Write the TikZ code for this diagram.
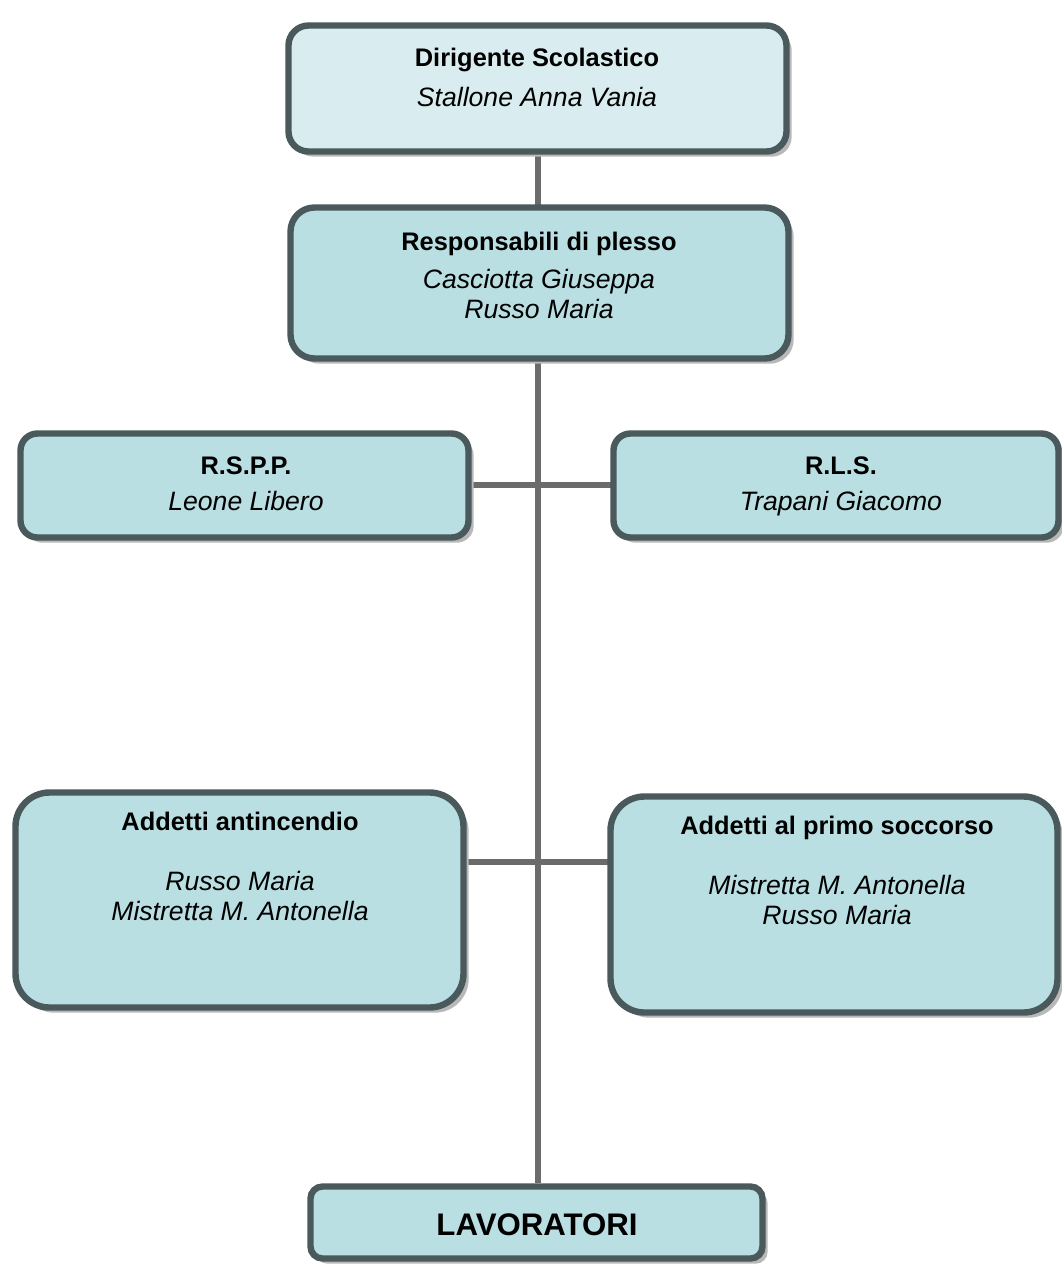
\documentclass[tikz,border=0pt]{standalone}
\usepackage{fontspec}
\setmainfont{Liberation Sans}
\usetikzlibrary{shadows}
\usetikzlibrary{backgrounds}
\usetikzlibrary{calc}

\definecolor{bordo}{RGB}{74,89,91}
\definecolor{chiaro}{RGB}{217,237,240}
\definecolor{acqua}{RGB}{185,223,227}
\definecolor{linea}{RGB}{107,107,107}

\newcommand{\titolo}[1]{{\fontsize{12.7}{15}\selectfont\bfseries\strut #1}}
\newcommand{\nome}[1]{{\fontsize{13.3}{15}\selectfont\itshape #1\strut}}

\tikzset{
  box/.style={draw=bordo, line width=3.2pt, fill=acqua, inner sep=0pt,
    drop shadow={shadow xshift=2.6pt, shadow yshift=-2.6pt, fill=black!28, opacity=1}},
  txt/.style={align=center, inner sep=0pt, font=\fontsize{13}{15}\selectfont},
  conn/.style={draw=linea, line width=3pt},
}

\begin{document}
\begin{tikzpicture}[x=0.5pt, y=-0.5pt]
    \useasboundingbox (0,0) rectangle (1062,1266);
    % riquadri
    \node[box, fill=chiaro, minimum width=249pt, minimum height=63pt, rounded corners=10pt] at (537.5, 88.5) (ds) {};
    \node[box, minimum width=249pt, minimum height=75.5pt, rounded corners=12pt] at (539.5, 283) (rp) {};
    \node[box, minimum width=224pt, minimum height=52pt, rounded corners=8.5pt] at (244.5, 485.5) (rspp) {};
    \node[box, minimum width=222.5pt, minimum height=52pt, rounded corners=8.5pt] at (836, 485.5) (rls) {};
    \node[box, minimum width=224pt, minimum height=107.5pt, rounded corners=17pt] at (239.5, 900) (aa) {};
    \node[box, minimum width=223.5pt, minimum height=108pt, rounded corners=17pt] at (834, 904.5) (ps) {};
    \node[box, minimum width=226pt, minimum height=36pt, rounded corners=6pt] at (536.5, 1222.5) (lav) {};
    % testi
    \node[txt] at (537, 80) (dst) {\titolo{Dirigente Scolastico}\\[5pt]\nome{Stallone Anna Vania}};
    \node[txt] at (539, 278) (rpt) {\titolo{Responsabili di plesso}\\[4pt]\nome{Casciotta Giuseppa}\\\nome{Russo Maria}};
    \node[txt] at (246, 486) (rsppt) {\titolo{R.S.P.P.}\\[3pt]\nome{Leone Libero}};
    \node[txt] at (841, 486) (rlst) {\titolo{R.L.S.}\\[3pt]\nome{Trapani Giacomo}};
    \node[txt] at (240, 869) (aat) {\titolo{Addetti antincendio}\\[15pt]\nome{Russo Maria}\\\nome{Mistretta M. Antonella}};
    \node[txt] at (837, 873) (pst) {\titolo{Addetti al primo soccorso}\\[15pt]\nome{Mistretta M. Antonella}\\\nome{Russo Maria}};
    \node[txt, font=\fontsize{15.6}{18}\selectfont\bfseries] at (537, 1225) (lavt) {LAVORATORI};
    % collegamenti
    \coordinate (j1) at (538, 485);
    \coordinate (j2) at (538, 862);
    \begin{scope}[on background layer]
      \draw[conn] (j1 |- ds.south) -- (j1 |- lav.north);
      \draw[conn] (rspp.center |- j1) -- (rls.center |- j1);
      \draw[conn] (aa.center |- j2) -- (ps.center |- j2);
    \end{scope}
\end{tikzpicture}
\end{document}
